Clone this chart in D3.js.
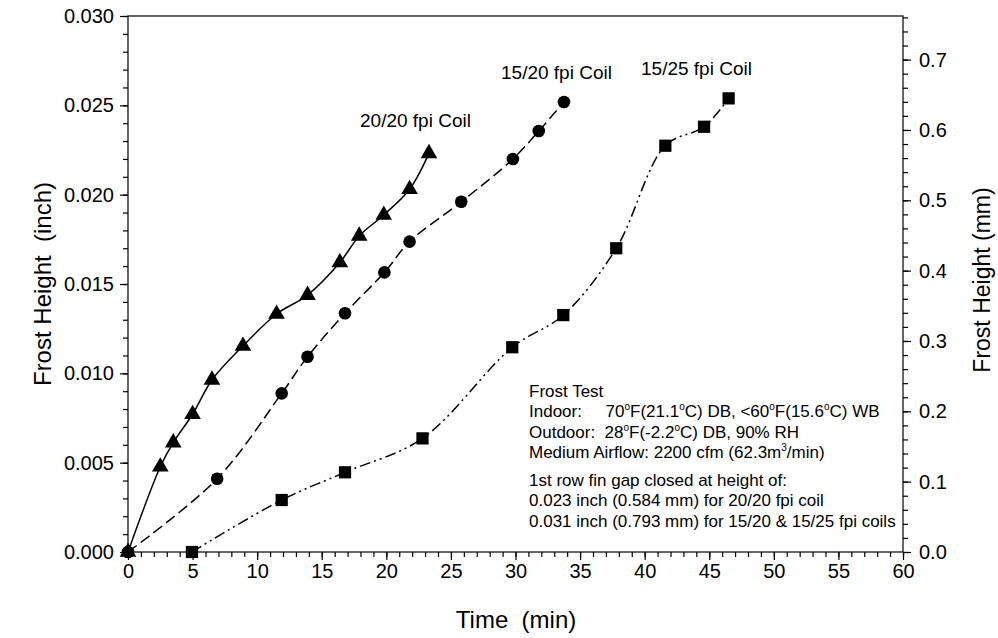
<!DOCTYPE html>
<html><head><meta charset="utf-8">
<script src="https://cdn.jsdelivr.net/npm/d3@7"></script>
<style>body{margin:0;background:#fff}</style>
</head><body><svg id="c" width="998" height="638"></svg>
<script>
// ---- data ----
const time2020 = [0, 2.5, 3.5, 5, 6.5, 8.9, 11.5, 13.9, 16.4, 17.9, 19.8, 21.8, 23.3];
const frost2020 = [0, 0.00477, 0.00612, 0.00771, 0.00963, 0.01153, 0.01332, 0.01438, 0.0162, 0.01769, 0.01886, 0.0203, 0.02231];
const time1520 = [0, 6.9, 11.9, 13.9, 16.8, 19.85, 21.8, 25.8, 29.8, 31.8, 33.75];
const frost1520 = [0, 0.0041, 0.00888, 0.01093, 0.01336, 0.01565, 0.01737, 0.0196, 0.022, 0.02356, 0.02519];
const time1525 = [4.95, 11.9, 16.8, 22.8, 29.75, 33.7, 37.8, 41.6, 44.6, 46.5];
const frost1525 = [0, 0.00291, 0.00446, 0.00636, 0.01146, 0.01326, 0.0170, 0.02274, 0.0238, 0.02539];
const seriesNames = ["20/20 fpi Coil", "15/20 fpi Coil", "15/25 fpi Coil"];
const xTicks = [0, 5, 10, 15, 20, 25, 30, 35, 40, 45, 50, 55, 60];
const yTicks = [0, 0.005, 0.010, 0.015, 0.020, 0.025, 0.030];
const mmTicks = [0, 0.1, 0.2, 0.3, 0.4, 0.5, 0.6, 0.7];

// ---- layout ----
const svg = d3.select("#c");
const L = 128, R = 903, T = 16, B = 552;
const x = d3.scaleLinear().domain([0, 60]).range([L, R]);
const y = d3.scaleLinear().domain([0, 0.03]).range([B, T]);
const ymm = d3.scaleLinear().domain([0, 0.03 * 25.4]).range([B, T]);
const font = "'Liberation Sans', Arial, sans-serif";
const tickFont = 20;

// frame
svg.append("rect").attr("x", L).attr("y", T).attr("width", R - L).attr("height", B - T)
  .attr("fill", "none").attr("stroke", "#000").attr("stroke-width", 1.2);

// axes
function styleAxis(g) {
  g.selectAll("path.domain").remove();
  g.selectAll("line").attr("stroke", "#000").attr("stroke-width", 1.2);
  g.selectAll("text").attr("font-family", font).attr("font-size", tickFont).attr("fill", "#000");
}
const xMinor = d3.range(0, 60.01, 1);
svg.append("g").attr("transform", `translate(0,${B})`)
  .call(d3.axisBottom(x).tickValues(xMinor).tickSize(5).tickFormat(""))
  .call(styleAxis);
svg.append("g").attr("transform", `translate(0,${B})`)
  .call(d3.axisBottom(x).tickValues(xTicks).tickSize(8).tickPadding(4).tickFormat(d3.format("d")))
  .call(styleAxis);

const yMinor = d3.range(0, 31).map(i => i * 0.001);
svg.append("g").attr("transform", `translate(${L},0)`)
  .call(d3.axisLeft(y).tickValues(yMinor).tickSize(5).tickFormat(""))
  .call(styleAxis);
svg.append("g").attr("transform", `translate(${L},0)`)
  .call(d3.axisLeft(y).tickValues(yTicks).tickSize(8).tickPadding(6).tickFormat(d3.format(".3f")))
  .call(styleAxis);

const mmMinor = d3.range(0, 39).map(i => i * 0.02);
svg.append("g").attr("transform", `translate(${R},0)`)
  .call(d3.axisRight(ymm).tickValues(mmMinor).tickSize(5).tickFormat(""))
  .call(styleAxis);
svg.append("g").attr("transform", `translate(${R},0)`)
  .call(d3.axisRight(ymm).tickValues(mmTicks).tickSize(8).tickPadding(8).tickFormat(d3.format(".1f")))
  .call(styleAxis);

// axis titles
svg.append("text").attr("x", 516).attr("y", 628).attr("text-anchor", "middle")
  .attr("font-family", font).attr("font-size", 24).attr("xml:space", "preserve").text("Time  (min)");
svg.append("text").attr("transform", `translate(51,284) rotate(-90)`).attr("text-anchor", "middle")
  .attr("font-family", font).attr("font-size", 24).attr("xml:space", "preserve").text("Frost Height  (inch)");
svg.append("text").attr("transform", `translate(990,280) rotate(-90)`).attr("text-anchor", "middle")
  .attr("font-family", font).attr("font-size", 23).text("Frost Height (mm)");

// series
const series = [
  { t: time2020, f: frost2020, dash: null, sym: d3.symbolTriangle, size: 120 },
  { t: time1520, f: frost1520, dash: "11,5", sym: d3.symbolCircle, size: 125 },
  { t: time1525, f: frost1525, dash: "11,4,2,4,2,4", sym: d3.symbolSquare, size: 150 }
];
const line = d3.line().x(d => x(d[0])).y(d => y(d[1])).curve(d3.curveCatmullRom.alpha(0.5));
series.forEach(s => {
  const pts = s.t.map((t, i) => [t, s.f[i]]);
  svg.append("path").datum(pts).attr("d", line).attr("fill", "none")
    .attr("stroke", "#000").attr("stroke-width", 1.5)
    .attr("stroke-dasharray", s.dash);
  svg.append("g").selectAll("path").data(pts).join("path")
    .attr("transform", d => `translate(${x(d[0])},${y(d[1])})`)
    .attr("d", d3.symbol().type(s.sym).size(s.size)).attr("fill", "#000");
});

// series labels
const labelPos = [[360, 127], [501, 79], [641, 75]];
seriesNames.forEach((n, i) => {
  svg.append("text").attr("x", labelPos[i][0]).attr("y", labelPos[i][1])
    .attr("font-family", font).attr("font-size", 19).text(n);
});

// annotation
const ann = svg.append("g").attr("font-family", font).attr("font-size", 17).attr("fill", "#000");
function addLine(yy, parts, xx = 529) {
  const t = ann.append("text").attr("x", xx).attr("y", yy).attr("xml:space", "preserve");
  parts.forEach(p => {
    if (typeof p === "object") {
      t.append("tspan").attr("font-size", 10).attr("baseline-shift", "70%").text(p.s);
    } else t.append("tspan").text(p);
  });
}
addLine(397, ["Frost Test"]);
addLine(417, ["Indoor:     70", { s: "o" }, "F(21.1", { s: "o" }, "C) DB, <60", { s: "o" }, "F(15.6", { s: "o" }, "C) WB"]);
addLine(438, ["Outdoor:  28", { s: "o" }, "F(-2.2", { s: "o" }, "C) DB, 90% RH"]);
addLine(458, ["Medium Airflow: 2200 cfm (62.3m", { s: "3" }, "/min)"]);
addLine(486, ["1st row fin gap closed at height of:"]);
addLine(506, ["0.023 inch (0.584 mm) for 20/20 fpi coil"]);
addLine(527, ["0.031 inch (0.793 mm) for 15/20 & 15/25 fpi coils"]);
</script>
</body></html>
